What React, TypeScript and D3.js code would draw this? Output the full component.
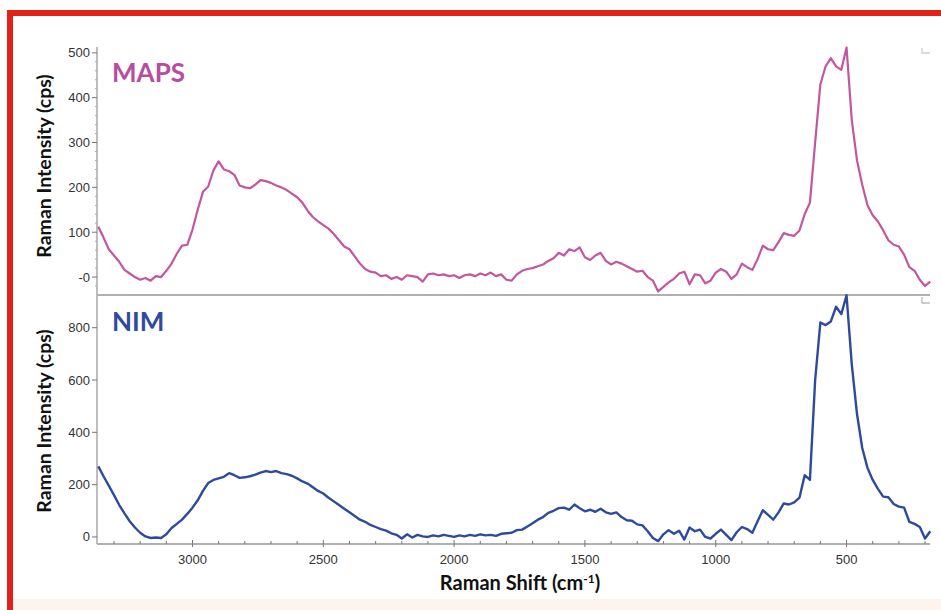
import React from "react";
import * as d3 from "d3";

const shifts = [
  3360, 3340, 3320, 3300, 3280, 3260, 3240, 3220, 3200, 3180, 3160, 3140, 3120, 3100, 3080, 3060, 3040, 3020, 3000, 2980,
  2960, 2940, 2920, 2900, 2880, 2860, 2840, 2820, 2800, 2780, 2760, 2740, 2720, 2700, 2680, 2660, 2640, 2620, 2600, 2580,
  2560, 2540, 2520, 2500, 2480, 2460, 2440, 2420, 2400, 2380, 2360, 2340, 2320, 2300, 2280, 2260, 2240, 2220, 2200, 2180,
  2160, 2140, 2120, 2100, 2080, 2060, 2040, 2020, 2000, 1980, 1960, 1940, 1920, 1900, 1880, 1860, 1840, 1820, 1800, 1780,
  1760, 1740, 1720, 1700, 1680, 1660, 1640, 1620, 1600, 1580, 1560, 1540, 1520, 1500, 1480, 1460, 1440, 1420, 1400, 1380,
  1360, 1340, 1320, 1300, 1280, 1260, 1240, 1220, 1200, 1180, 1160, 1140, 1120, 1100, 1080, 1060, 1040, 1020, 1000, 980,
  960, 940, 920, 900, 880, 860, 840, 820, 800, 780, 760, 740, 720, 700, 680, 660, 640, 620, 600, 580,
  560, 540, 520, 500, 480, 460, 440, 420, 400, 380, 360, 340, 320, 300, 280, 260, 240, 220, 200, 180,
];

const mapsIntensity = [
  112, 88, 62, 48, 34, 16, 8, 0, -6, -2, -8, 2, 0, 14, 30, 52, 70, 72, 106, 150,
  190, 202, 238, 258, 240, 236, 228, 204, 200, 198, 206, 216, 214, 210, 204, 200, 194, 186, 178, 166,
  148, 134, 124, 116, 108, 96, 82, 68, 62, 46, 30, 18, 12, 10, 2, 4, -4, 0, -6, 4,
  2, 0, -10, 6, 8, 4, 6, 2, 4, -2, 4, 6, 2, 8, 4, 10, 2, 6, -6, -8,
  6, 14, 18, 20, 24, 28, 36, 42, 54, 48, 62, 58, 66, 44, 38, 48, 54, 36, 28, 34,
  30, 24, 18, 12, 14, 0, -8, -32, -22, -12, -4, 8, 12, -16, 6, 4, -14, -8, 10, 18,
  12, -4, 6, 30, 22, 16, 40, 70, 62, 60, 78, 98, 94, 92, 104, 140, 166, 300, 430, 470,
  488, 470, 462, 512, 350, 260, 206, 160, 138, 124, 104, 82, 72, 68, 50, 22, 14, -6, -20, -10,
];

const nimIntensity = [
  270, 232, 196, 160, 122, 90, 60, 36, 16, 2, -4, -2, -4, 10, 34, 50, 66, 88, 112, 140,
  176, 206, 218, 224, 230, 244, 236, 226, 228, 232, 238, 246, 252, 248, 252, 244, 240, 234, 224, 212,
  204, 190, 176, 166, 150, 136, 122, 108, 94, 80, 66, 58, 46, 38, 30, 24, 14, 8, -6, 10,
  -2, 8, 2, 0, 6, 2, 8, 4, 0, 6, 2, 8, 4, 10, 6, 8, 4, 12, 14, 16,
  26, 28, 40, 52, 66, 76, 92, 100, 110, 112, 104, 124, 110, 98, 104, 96, 108, 94, 88, 94,
  76, 64, 62, 48, 44, 22, -4, -16, 10, 26, 12, 24, -10, 36, 22, 28, 0, -6, 12, 28,
  8, -12, 18, 38, 30, 16, 60, 102, 84, 66, 94, 128, 124, 132, 150, 236, 218, 600, 820, 810,
  824, 880, 852, 924, 660, 470, 340, 264, 218, 184, 154, 152, 126, 116, 112, 58, 50, 38, -6, 22,
];

const xMajorTicks = [3000, 2500, 2000, 1500, 1000, 500];
const xMinorTicks = [3300, 3200, 3100, 2900, 2800, 2700, 2600, 2400, 2300, 2200, 2100, 1900, 1800, 1700, 1600, 1400, 1300, 1200, 1100, 900, 800, 700, 600, 400, 300, 200];
const topTicks = [500, 400, 300, 200, 100, 0];
const topTickLabels = ["500", "400", "300", "200", "100", "-0"];
const topMinorTicks = [480, 460, 440, 420, 380, 360, 340, 320, 280, 260, 240, 220, 180, 160, 140, 120, 80, 60, 40, 20, -20];
const bottomTicks = [800, 600, 400, 200, 0];
const bottomTickLabels = ["800", "600", "400", "200", "0"];

const W = 941;
const H = 610;
const L = 97;
const R = 930;
const TOP = 47;
const MID = 295;
const BOT = 544;

const tickFont = "'Liberation Sans', Arial, sans-serif";
const titleFont = "Lato, 'Open Sans', sans-serif";

export default function App() {
  const x = d3.scaleLinear().domain([3365, 181]).range([L, R]);
  const yTop = d3.scaleLinear().domain([-40, 513]).range([MID, TOP]);
  const yBot = d3.scaleLinear().domain([-27, 925]).range([BOT, MID]);

  const mapsLine = d3
    .line<number>()
    .x((_, i) => x(shifts[i]))
    .y((d) => yTop(d))(mapsIntensity) as string;
  const nimLine = d3
    .line<number>()
    .x((_, i) => x(shifts[i]))
    .y((d) => yBot(d))(nimIntensity) as string;

  return (
    <svg
      width={W}
      height={H}
      style={{ position: "absolute", left: 0, top: 0, background: "#fff" }}
    >
      <rect x={0} y={0} width={W} height={H} fill="#fff" />
      <rect x={13} y={599} width={W} height={12} fill="#fdf3ef" />
      <rect x={10} y={13} width={1000} height={700} fill="none" stroke="#e32119" strokeWidth={6} />

      {/* axes lines */}
      <line x1={L} x2={L} y1={TOP} y2={BOT} stroke="#9a9a9a" strokeWidth={1.3} />
      <line x1={L} x2={R} y1={MID} y2={MID} stroke="#b0b0b0" strokeWidth={2} />
      <line x1={L} x2={R} y1={BOT} y2={BOT} stroke="#b0b0b0" strokeWidth={2} />

      {/* corner marks */}
      <path d={`M${R - 8},${TOP + 1} V${TOP + 6} H${R}`} fill="none" stroke="#cfcfcf" strokeWidth={1.3} />
      <path d={`M${R - 8},${MID + 2} V${MID + 8} H${R}`} fill="none" stroke="#bdbdbd" strokeWidth={1.3} />

      {/* top y ticks */}
      {topMinorTicks.map((t) => (
        <line key={"tm" + t} x1={L - 2} x2={L} y1={yTop(t)} y2={yTop(t)} stroke="#aaa" strokeWidth={1} />
      ))}
      {topTicks.map((t, i) => (
        <g key={"tt" + t}>
          <line x1={L - 5} x2={L} y1={yTop(t)} y2={yTop(t)} stroke="#777" strokeWidth={1} />
          <text x={L - 7} y={yTop(t) + 4.5} textAnchor="end" fontFamily={tickFont} fontSize={13} fill="#333">
            {topTickLabels[i]}
          </text>
        </g>
      ))}

      {/* bottom y ticks */}
      {bottomTicks.map((t, i) => (
        <g key={"bt" + t}>
          <line x1={L - 5} x2={L} y1={yBot(t)} y2={yBot(t)} stroke="#777" strokeWidth={1} />
          <text x={L - 7} y={yBot(t) + 4.5} textAnchor="end" fontFamily={tickFont} fontSize={13} fill="#333">
            {bottomTickLabels[i]}
          </text>
        </g>
      ))}

      {/* x ticks */}
      {xMinorTicks.map((t) => (
        <line key={"xm" + t} x1={x(t)} x2={x(t)} y1={BOT - 3} y2={BOT} stroke="#777" strokeWidth={1} />
      ))}
      {xMajorTicks.map((t) => (
        <g key={"xt" + t}>
          <line x1={x(t)} x2={x(t)} y1={BOT - 4} y2={BOT + 3} stroke="#777" strokeWidth={1} />
          <text x={x(t)} y={BOT + 20} textAnchor="middle" fontFamily={tickFont} fontSize={13} fill="#333">
            {t}
          </text>
        </g>
      ))}

      {/* lines */}
      <path d={mapsLine} fill="none" stroke="#c4569f" strokeWidth={2.2} strokeLinejoin="round" />
      <path d={nimLine} fill="none" stroke="#2e4a9f" strokeWidth={2.4} strokeLinejoin="round" />

      {/* panel labels */}
      <text x={112} y={82} fontFamily={titleFont} fontWeight={700} fontSize={26} fill="#b94ca0">
        MAPS
      </text>
      <text x={112} y={331} fontFamily={titleFont} fontWeight={700} fontSize={26} fill="#2f4b9c">
        NIM
      </text>

      {/* axis titles */}
      <text
        transform={`translate(51,166) rotate(-90)`}
        textAnchor="middle"
        fontFamily={titleFont}
        fontWeight={700}
        fontSize={19.5}
        fill="#111"
      >
        Raman Intensity (cps)
      </text>
      <text
        transform={`translate(51,421) rotate(-90)`}
        textAnchor="middle"
        fontFamily={titleFont}
        fontWeight={700}
        fontSize={19.5}
        fill="#111"
      >
        Raman Intensity (cps)
      </text>
      <text x={520} y={590} textAnchor="middle" fontFamily={titleFont} fontWeight={700} fontSize={20} fill="#111">
        Raman Shift (cm
        <tspan dy={-7} fontSize={12}>-1</tspan>
        <tspan dy={7}>)</tspan>
      </text>
    </svg>
  );
}
